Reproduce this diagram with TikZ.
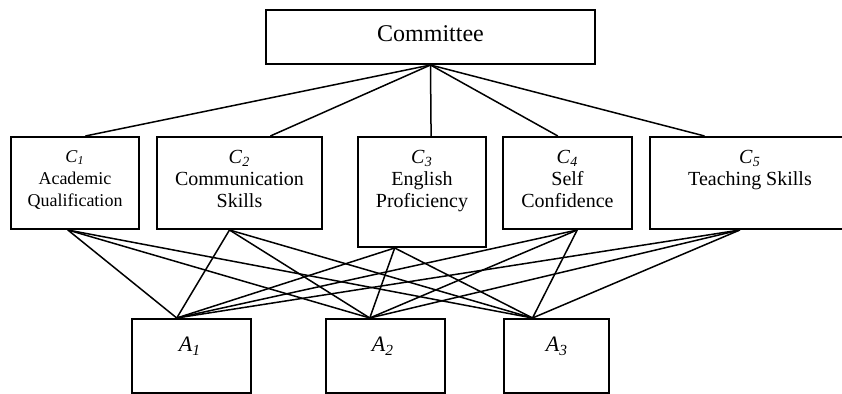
\documentclass[tikz,border=0pt]{standalone}
\usepackage{fontspec}
\setmainfont{Liberation Serif}
\usetikzlibrary{calc}
\begin{document}
\begin{tikzpicture}[x=0.5pt,y=-0.5pt,
  box/.style={draw, line width=1pt, inner sep=0pt},
  conn/.style={line width=0.75pt},
  lbl/.style={inner sep=0pt, align=center, anchor=north, font=\fontsize{10}{11}\selectfont},
  albl/.style={inner sep=0pt, anchor=base, font=\fontsize{11}{13}\selectfont}]
\useasboundingbox (0,0) rectangle (842,394);
% boxes
\node[box, minimum width=164.5pt, minimum height=27pt] (com) at (430.5,37) {};
\node[box, minimum width=64pt,   minimum height=46pt] (c1) at (75,183) {};
\node[box, minimum width=82.5pt, minimum height=46pt] (c2) at (239.5,183) {};
\node[box, minimum width=64pt,   minimum height=55pt] (c3) at (422,192) {};
\node[box, minimum width=64.5pt, minimum height=46pt] (c4) at (567.5,183) {};
\node[box, minimum width=100pt,  minimum height=46pt] (c5) at (750,183) {};
\node[box, minimum width=59.5pt, minimum height=37pt] (a1) at (191.5,356) {};
\node[box, minimum width=59.5pt, minimum height=37pt] (a2) at (385.5,356) {};
\node[box, minimum width=52.5pt, minimum height=37pt] (a3) at (556.5,356) {};
% texts
\node[inner sep=0pt, anchor=base, font=\fontsize{12}{14}\selectfont] (tcom) at (430.5,42) {Committee};
\node[lbl, font=\fontsize{9}{11}\selectfont] (t1) at ($(c1.north)+(0,14)$) {\textit{C}\textsubscript{\textit{1}}\\Academic\\Qualification};
\node[lbl] (t2) at ($(c2.north)+(0,14)$) {\textit{C}\textsubscript{\textit{2}}\\Communication\\Skills};
\node[lbl] (t3) at ($(c3.north)+(0,14)$) {\textit{C}\textsubscript{\textit{3}}\\English\\Proficiency};
\node[lbl] (t4) at ($(c4.north)+(0,14)$) {\textit{C}\textsubscript{\textit{4}}\\Self\\Confidence};
\node[lbl] (t5) at ($(c5.north)+(0,14)$) {\textit{C}\textsubscript{\textit{5}}\\Teaching Skills};
\node[albl] (ta1) at (190,352) {\textit{A}\textsubscript{\textit{1}}};
\node[albl] (ta2) at (383,352) {\textit{A}\textsubscript{\textit{2}}};
\node[albl] (ta3) at (557,352) {\textit{A}\textsubscript{\textit{3}}};
% connection points
\coordinate (c1t) at ($(c1.north west)!0.58!(c1.north east)$);
\coordinate (c2t) at ($(c2.north west)!0.685!(c2.north east)$);
\coordinate (c3t) at ($(c3.north west)!0.57!(c3.north east)$);
\coordinate (c4t) at ($(c4.north west)!0.426!(c4.north east)$);
\coordinate (c5t) at ($(c5.north west)!0.275!(c5.north east)$);
\coordinate (c1b) at ($(c1.south west)!0.445!(c1.south east)$);
\coordinate (c2b) at ($(c2.south west)!0.44!(c2.south east)$);
\coordinate (c3b) at ($(c3.south west)!0.29!(c3.south east)$);
\coordinate (c4b) at ($(c4.south west)!0.574!(c4.south east)$);
\coordinate (c5b) at ($(c5.south west)!0.45!(c5.south east)$);
\coordinate (a1t) at ($(a1.north west)!0.378!(a1.north east)$);
\coordinate (a2t) at ($(a2.north west)!0.37!(a2.north east)$);
\coordinate (a3t) at ($(a3.north west)!0.276!(a3.north east)$);
% connectors
\foreach \c in {c1t,c2t,c3t,c4t,c5t} \draw[conn] (com.south) -- (\c);
\foreach \c in {c1b,c2b,c3b,c4b,c5b}
  \foreach \a in {a1t,a2t,a3t} \draw[conn] (\c) -- (\a);
\end{tikzpicture}
\end{document}
